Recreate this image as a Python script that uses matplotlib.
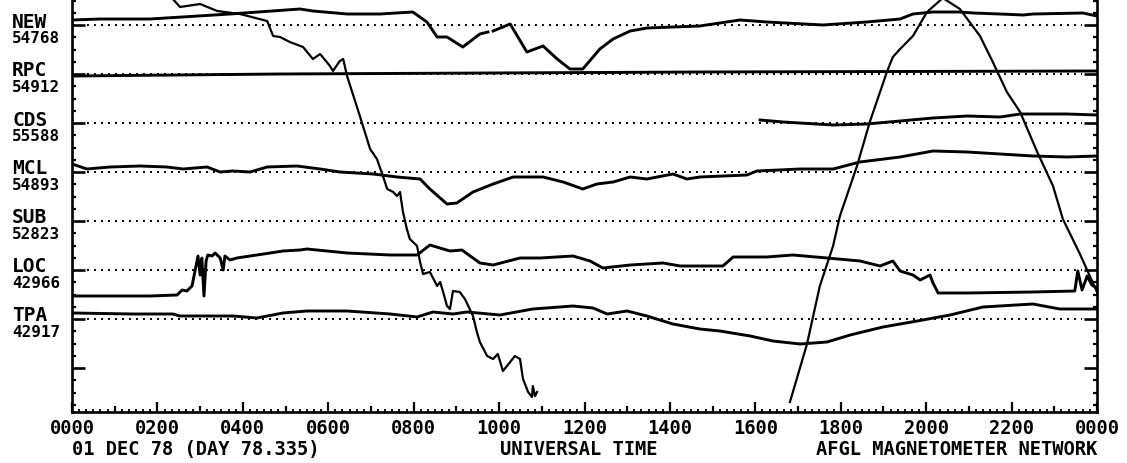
import numpy as np
import matplotlib
matplotlib.use('Agg')
import matplotlib.pyplot as plt

# stations (top to bottom) and their reference values
stations = ['NEW', 'RPC', 'CDS', 'MCL', 'SUB', 'LOC', 'TPA']
ref_values = ['54768', '54912', '55588', '54893', '52823', '42966', '42917']
spacing = 98  # nT between station baselines

# time in hours UT, deviation in nT from each station's baseline
new_t = [0, 0.66, 1.83, 3.70, 5.34, 5.64, 6.44, 7.21, 7.98, 8.31, 8.55, 8.78, 9.15, 9.55, 9.74, 9.80,
         9.86, 10.26, 10.65, 11.03, 11.36, 11.66, 11.96, 12.36, 12.67, 13.07, 13.46, 14.70, 15.64,
         16.27, 17.58, 18.61, 19.39, 19.69, 20.16, 20.79, 21.10, 21.73, 22.27, 22.50, 23.67, 24.0]
new_v = [10, 12, 12, 22, 32, 28, 22, 22, 26, 6, -24, -24, -44, -18, -14, np.nan,
         -12, 2, -54, -42, -68, -88, -88, -48, -28, -12, -6, -2, 10,
         6, 0, 6, 12, 22, 26, 26, 24, 22, 20, 22, 24, 18]

rpc_t = [0, 4.87, 14.70, 24.0]
rpc_v = [-4, 0, 4, 6]

cds_t = [16.11, 16.65, 17.82, 18.61, 19.39, 20.16, 20.96, 21.73, 22.20, 23.30, 24.0]
cds_v = [6, 2, -4, -2, 4, 10, 14, 12, 18, 18, 16]

mcl_t = [0, 0.35, 0.89, 1.59, 2.22, 2.60, 3.16, 3.47, 3.77, 4.17, 4.57, 5.27, 5.81, 6.27, 7.05,
         7.61, 8.15, 8.38, 8.78, 9.01, 9.39, 9.86, 10.33, 11.03, 11.50, 11.96, 12.29, 12.67, 13.07,
         13.46, 14.07, 14.40, 14.70, 15.80, 16.04, 17.05, 17.82, 18.45, 19.39, 20.16, 20.96, 21.73,
         22.50, 23.30, 24.0]
mcl_v = [16, 6, 10, 12, 10, 6, 10, 0, 2, 0, 10, 12, 6, 0, -4,
         -10, -14, -34, -64, -62, -40, -24, -10, -10, -20, -34, -24, -20, -10,
         -14, -4, -14, -10, -6, 2, 6, 6, 20, 30, 42, 40, 36,
         32, 30, 32]

# SUB drifted off scale: two visible pieces
sub1_t = [2.29, 2.36, 2.53, 3.00, 3.40, 3.93, 4.57, 4.71, 4.87, 5.10, 5.41, 5.64, 5.81, 6.04, 6.11,
          6.27, 6.35, 6.44, 6.74, 6.98, 7.14, 7.28, 7.38, 7.52, 7.61, 7.68, 7.75, 7.84, 7.91, 8.08,
          8.15, 8.22, 8.38, 8.55, 8.62, 8.69, 8.78, 8.85, 8.92, 9.08, 9.20, 9.39, 9.48, 9.55, 9.72,
          9.86, 9.97, 10.09, 10.26, 10.37, 10.49, 10.56, 10.68, 10.77, 10.79, 10.84, 10.89]
sub1_v = [456, 444, 428, 434, 420, 414, 400, 370, 368, 358, 348, 324, 334, 310, 300,
          320, 324, 290, 210, 144, 124, 90, 64, 58, 50, 58, 18, -16, -36, -50,
          -82, -106, -102, -130, -122, -142, -170, -176, -140, -142, -156, -190, -222, -242, -270,
          -276, -266, -300, -282, -270, -276, -316, -342, -352, -330, -350, -342]
sub2_t = [16.81, 17.21, 17.51, 17.82, 17.98, 18.38, 18.68, 19.08, 19.22, 19.39, 19.69, 20.02, 20.39,
          20.79, 21.26, 21.56, 21.89, 22.20, 22.60, 22.97, 23.20, 23.60, 24.0]
sub2_v = [-362, -246, -130, -50, 10, 110, 198, 298, 328, 344, 370, 418, 446,
          424, 370, 318, 258, 218, 138, 70, 4, -66, -142]

loc_t = [0, 1.83, 2.46, 2.58, 2.69, 2.81, 2.88, 2.95, 3.00, 3.04, 3.09, 3.14, 3.18, 3.28, 3.35,
         3.47, 3.54, 3.58, 3.70, 3.86, 4.17, 4.64, 4.94, 5.34, 5.50, 6.44, 7.45, 8.08, 8.38, 8.85,
         9.13, 9.55, 9.86, 10.49, 10.96, 11.73, 12.13, 12.43, 13.07, 13.84, 14.24, 14.70, 15.24,
         15.48, 16.27, 16.88, 17.68, 18.45, 18.92, 19.22, 19.39, 19.69, 19.86, 20.09, 20.16, 20.28,
         20.96, 22.50, 23.48, 23.55, 23.65, 23.77, 23.88, 24.0]
loc_v = [-52, -52, -50, -40, -42, -32, -2, 28, -10, 24, -52, 18, 30, 28, 34,
         24, 0, 28, 20, 24, 28, 34, 38, 40, 42, 34, 30, 30, 50, 38,
         40, 14, 10, 24, 24, 28, 18, 4, 10, 14, 8, 8, 8,
         26, 26, 30, 24, 18, 8, 18, -2, -10, -20, -10, -26, -46,
         -46, -44, -42, -2, -40, -12, -30, -36]

tpa_t = [0, 1.43, 2.36, 2.53, 3.77, 4.33, 4.94, 5.50, 6.44, 7.45, 8.08, 8.45, 8.92, 9.25, 10.02,
         10.79, 11.73, 12.20, 12.53, 13.00, 13.46, 14.07, 14.70, 15.17, 15.88, 16.41, 17.05, 17.68,
         18.22, 18.99, 19.79, 20.56, 21.33, 22.50, 23.13, 24.0]
tpa_v = [12, 10, 10, 6, 6, 2, 12, 16, 16, 10, 4, 14, 10, 14, 8,
         20, 26, 22, 10, 16, 6, -10, -20, -24, -34, -44, -50, -46,
         -32, -16, -4, 8, 24, 30, 20, 20]

hour_labels = ['0000', '0200', '0400', '0600', '0800', '1000', '1200',
               '1400', '1600', '1800', '2000', '2200', '0000']

plt.rcParams['font.family'] = ['DejaVu Sans Mono']
plt.rcParams['font.weight'] = 'bold'

W, H = 1127, 464
fig = plt.figure(figsize=(W / 100, H / 100), dpi=100)
ax = fig.add_axes([72 / W, 51 / H, 1025 / W, 413 / H])

base = [-spacing * k for k in range(len(stations))]

# dotted baselines
ax.hlines(base, 0.35, 23.65, colors='k', linestyles=(0, (1, 2.6)), lw=1.4)

ax.plot(new_t, np.array(new_v) + base[0], color='k', lw=2.1)
ax.plot(rpc_t, np.array(rpc_v) + base[1], color='k', lw=2.1)
ax.plot(cds_t, np.array(cds_v) + base[2], color='k', lw=2.1)
ax.plot(mcl_t, np.array(mcl_v) + base[3], color='k', lw=2.1)
ax.plot(sub1_t, np.array(sub1_v) + base[4], color='k', lw=1.6)
ax.plot(sub2_t, np.array(sub2_v) + base[4], color='k', lw=1.6)
ax.plot(loc_t, np.array(loc_v) + base[5], color='k', lw=2.1)
ax.plot(tpa_t, np.array(tpa_v) + base[6], color='k', lw=2.1)

ax.set_xlim(0, 24)
ax.set_ylim(-774, 52)

for s in ['left', 'right', 'bottom']:
    ax.spines[s].set_linewidth(1.9)
ax.spines['top'].set_visible(False)

# y ticks: long at baselines, short every quarter spacing
ax.set_yticks([-spacing * k for k in range(8)])
ax.set_yticks(np.arange(-759.5, 50, spacing / 4), minor=True)
ax.set_yticklabels([])
ax.tick_params(axis='y', which='major', direction='in', length=9.5, width=1.9,
               left=True, right=True)
ax.tick_params(axis='y', which='minor', direction='in', length=2.6, width=1.6,
               left=True, right=True)

# x ticks: every hour (long every two), minor every 10 min
ax.set_xticks(np.arange(0, 25, 1))
ax.set_xticks(np.arange(0, 24.01, 1 / 6), minor=True)
xl = []
for h in range(25):
    xl.append(hour_labels[h // 2] if h % 2 == 0 else '')
ax.set_xticklabels(xl)
ax.tick_params(axis='x', which='major', direction='in', width=1.6, pad=4,
               labelsize=13.5, bottom=True, top=False)
ax.tick_params(axis='x', which='minor', direction='in', length=2.4, width=1.3,
               bottom=True, top=False)
for i, tick in enumerate(ax.xaxis.get_major_ticks()):
    tick.tick1line.set_markersize(7.5 if i % 2 == 0 else 4.2)

# station labels on the left
ytr = ax.get_yaxis_transform()
for k in range(len(stations)):
    ax.text(-60 / 1025, base[k] + 8, stations[k], transform=ytr, fontsize=14,
            ha='left', va='center', fontweight='bold')
    ax.text(-60 / 1025, base[k] - 25, ref_values[k], transform=ytr, fontsize=11.5,
            ha='left', va='center', fontweight='bold')

fig.text(72 / W, 1 - 450 / H, '01 DEC 78 (DAY 78.335)', fontsize=13.5,
         ha='left', va='center', fontweight='bold')
fig.text(579 / W, 1 - 450 / H, 'UNIVERSAL TIME', fontsize=13.5,
         ha='center', va='center', fontweight='bold')
fig.text(1097 / W, 1 - 450 / H, 'AFGL MAGNETOMETER NETWORK', fontsize=13.5,
         ha='right', va='center', fontweight='bold')

fig.savefig('out.png', dpi=100)
